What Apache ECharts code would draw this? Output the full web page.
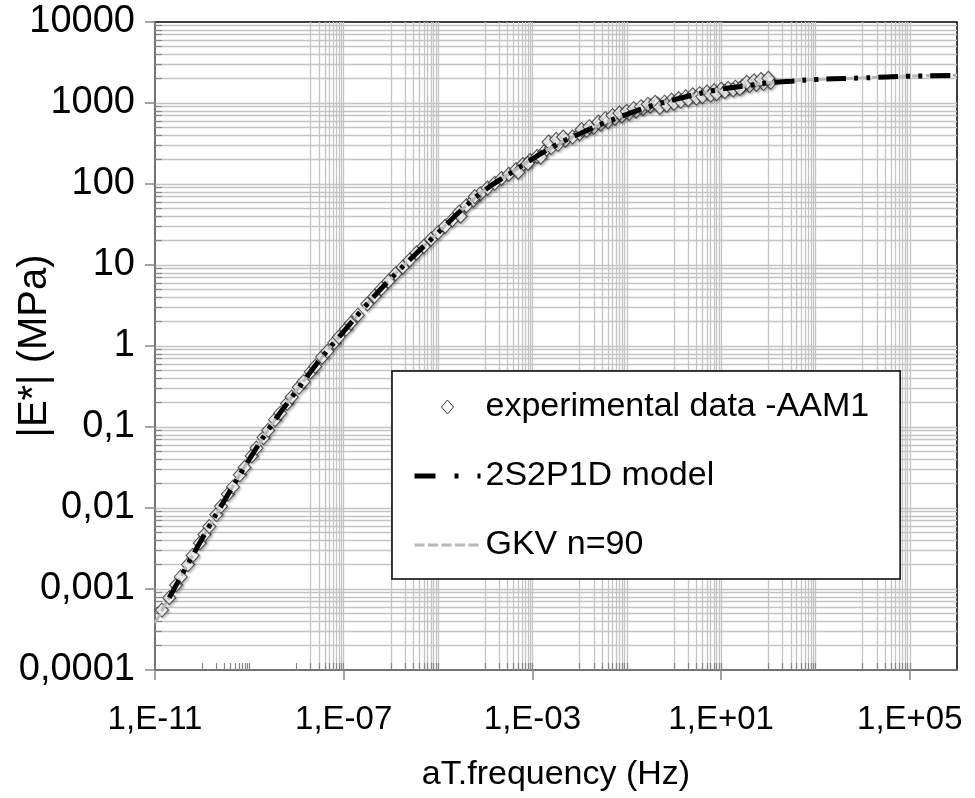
<!DOCTYPE html>
<html><head><meta charset="utf-8">
<script src="https://cdn.jsdelivr.net/npm/echarts@6/dist/echarts.min.js"></script>
<style>html,body{margin:0;padding:0;background:#fff}#c{width:975px;height:798px}</style>
</head><body><div id="c"></div>
<script>
// ---------- data ----------
const xTickValues = [1e-11, 1e-7, 1e-3, 1e1, 1e5];
const xTickLabels = ['1,E-11', '1,E-07', '1,E-03', '1,E+01', '1,E+05'];
const yTickValues = [1e-4, 1e-3, 1e-2, 1e-1, 1, 10, 100, 1000, 10000];
const yTickLabels = ['0,0001', '0,001', '0,01', '0,1', '1', '10', '100', '1000', '10000'];

const expFreq = [
  1.4e-11, 2.0e-11, 2.8e-11, 3.5e-11, 5.0e-11, 6.3e-11, 8.9e-11,
  1.12e-10, 1.41e-10, 2.0e-10, 2.5e-10, 3.5e-10, 4.5e-10, 6.3e-10, 7.9e-10,
  1.12e-9, 1.41e-9, 2.0e-9, 2.5e-9, 3.5e-9, 4.5e-9, 6.3e-9, 7.9e-9,
  1.12e-8, 1.41e-8, 2.0e-8, 2.5e-8, 3.5e-8, 4.5e-8, 6.3e-8, 7.9e-8,
  1.12e-7, 1.41e-7, 2.0e-7, 3.16e-7, 4.5e-7, 6.3e-7, 8.9e-7,
  1.26e-6, 1.78e-6, 2.5e-6, 3.5e-6, 5.0e-6, 7.1e-6,
  1.0e-5, 1.41e-5, 2.0e-5, 2.8e-5, 4.0e-5, 5.6e-5, 7.9e-5,
  1.12e-4, 1.58e-4, 2.2e-4, 3.16e-4, 4.5e-4, 6.3e-4, 8.9e-4,
  1.26e-3, 1.78e-3, 2.5e-3, 3.5e-3, 5.0e-3, 7.1e-3,
  1.0e-2, 1.41e-2, 2.0e-2, 2.8e-2, 4.0e-2, 5.6e-2, 7.9e-2,
  0.112, 0.158, 0.22, 0.316, 0.45, 0.63, 0.89,
  1.26, 1.78, 2.5, 3.5, 5.0, 7.1,
  10, 14.1, 20, 28, 40, 56, 79, 112,
  2.2e-3, 3.2e-3, 4.5e-3, 1.1e-2, 1.6e-2, 2.5e-2, 0.035, 0.05, 0.07, 0.1,
  0.14, 0.2, 0.28, 0.4, 0.5, 0.7, 1.0, 1.4, 2.0, 3.0,
  4.0, 6.0, 8.0, 12, 18, 25, 35, 50, 70, 100,
  1.5e-3, 8e-4, 5e-4, 3e-5, 6e-5
];
const expModulus = [
  0.00055, 0.00078, 0.00112, 0.00141, 0.0020, 0.0026, 0.0037,
  0.0047, 0.0059, 0.0083, 0.0105, 0.0148, 0.0182, 0.0257, 0.0316,
  0.044, 0.055, 0.074, 0.091, 0.123, 0.148, 0.195, 0.234,
  0.309, 0.363, 0.479, 0.56, 0.73, 0.86, 1.10, 1.29,
  1.62, 1.91, 2.4, 3.3, 4.1, 5.1, 6.3,
  7.8, 9.4, 11.5, 14.1, 17.0, 20.9,
  25, 30, 36, 45, 54, 63, 76,
  89, 102, 117, 132, 151, 174, 195,
  219, 251, 282, 309, 347, 380,
  417, 457, 501, 550, 589, 646, 692,
  741, 794, 851, 912, 966, 1023, 1084,
  1135, 1189, 1259, 1303, 1365, 1413,
  1479, 1514, 1567, 1603, 1641, 1698, 1738, 1800,
  330, 355, 380, 470, 510, 580, 640, 700, 750, 790,
  850, 900, 960, 1020, 880, 940, 990, 1050, 1100, 1150,
  1200, 1250, 1300, 1380, 1450, 1500, 1800, 1880, 1950, 2020,
  215, 180, 140, 40, 70
];

const modelFreq = [2e-11, 3.16e-11, 1e-10, 3.16e-10, 1e-9, 3.16e-9, 1e-8, 3.16e-8, 1e-7, 3.16e-7,
  1e-6, 3.16e-6, 1e-5, 3.16e-5, 1e-4, 3.16e-4, 1e-3, 3.16e-3, 1e-2, 3.16e-2,
  0.1, 0.316, 1, 3.16, 10, 31.6, 100, 316, 1000, 1e4, 1e5, 1e6];
const modelModulus = [0.00078, 0.00126, 0.0042, 0.0132, 0.040, 0.112, 0.28, 0.68, 1.51, 3.3,
  6.8, 13.2, 25, 48, 85, 132, 204, 302, 417, 562,
  724, 912, 1096, 1288, 1480, 1622, 1778, 1862, 1950, 2040, 2140, 2190];

const gkvFreq = [1e-11, 3.16e-11, 1e-10, 3.16e-10, 1e-9, 3.16e-9, 1e-8, 3.16e-8, 1e-7, 3.16e-7,
  1e-6, 3.16e-6, 1e-5, 3.16e-5, 1e-4, 3.16e-4, 1e-3, 3.16e-3, 1e-2, 3.16e-2,
  0.1, 0.316, 1, 3.16, 10, 31.6, 100, 316, 1000, 1e4, 1e5, 1e6];
const gkvModulus = [0.00038, 0.00126, 0.0042, 0.0132, 0.040, 0.112, 0.28, 0.68, 1.51, 3.3,
  6.8, 13.2, 25, 48, 85, 132, 204, 302, 417, 562,
  724, 912, 1096, 1288, 1480, 1622, 1778, 1862, 1950, 2040, 2150, 2200];

// gridline / minor tick positions
const xGridDecades = [1e-8, 1e-6, 1e-4, 1e-2, 1e0, 1e2, 1e4];
const xMinorTickDecades = [1e-10, 1e-8, 1e-6, 1e-4, 1e-2, 1e0, 1e2, 1e4];
const yDecades = [1e-4, 1e-3, 1e-2, 1e-1, 1, 10, 100, 1000];

// ---------- build ----------
const FONT = "'Liberation Sans', Arial, sans-serif";
const AXIS_GRAY = '#868686';
const GRID_GRAY = '#c4c4c4';

const xGridValues = [];
xGridDecades.forEach(d => { for (let k = (d === 1e-8 ? 2 : 1); k <= 10; k++) xGridValues.push(k * d); });
const xMinorTicks = [];
xMinorTickDecades.forEach(d => { for (let k = 1; k <= 10; k++) xMinorTicks.push(k * d); });
const yGridValues = [];
const yMinorTicks = [];
yDecades.forEach(d => {
  if (d > 1e-4) yGridValues.push(d);
  for (let k = 2; k <= 9; k++) { yGridValues.push(k * d); yMinorTicks.push(k * d); }
});

function lookup(values, labels, v) {
  for (let i = 0; i < values.length; i++) {
    if (Math.abs(Math.log10(values[i]) - Math.log10(v)) < 0.01) return labels[i];
  }
  return '';
}
const zip = (a, b) => a.map((v, i) => [v, b[i]]);

const gridLines = xGridValues.map(v => ({ xAxis: v })).concat(yGridValues.map(v => ({ yAxis: v })));

const chart = echarts.init(document.getElementById('c'), null, { renderer: 'canvas' });
chart.setOption({
  animation: false,
  backgroundColor: '#ffffff',
  textStyle: { fontFamily: FONT },
  grid: { left: 155, top: 22, right: 18, bottom: 128, containLabel: false, outerBoundsMode: 'none',
    show: true, borderColor: '#000', borderWidth: 1.5, backgroundColor: '#fff' },
  legend: {
    orient: 'vertical', left: 392, top: 371,
    padding: [19, 31, 17, 20], itemGap: 35, itemWidth: 66, itemHeight: 14,
    symbolKeepAspect: true,
    borderColor: '#000', borderWidth: 1.5, backgroundColor: '#fff',
    textStyle: { fontSize: 34, color: '#000', fontFamily: FONT },
    data: [
      { name: 'experimental data -AAM1', icon: 'path://M6,0L12,7L6,14L0,7Z',
        itemStyle: { color: '#fff', borderColor: '#000', borderWidth: 1, shadowBlur: 0, shadowOffsetX: 0, shadowOffsetY: 0 } },
      { name: '2S2P1D model', itemStyle: { opacity: 0 },
        lineStyle: { type: [21, 19, 4, 19, 4, 19], width: 5, color: '#000', opacity: 1 } },
      { name: 'GKV n=90', itemStyle: { opacity: 0 },
        lineStyle: { type: [10, 3.5], width: 3, color: '#b8b8b8', opacity: 1 } }
    ]
  },
  xAxis: [
    {
      type: 'log', logBase: 10, min: 1e-11, max: 1e6, position: 'bottom', z: 2,
      axisLine: { lineStyle: { color: AXIS_GRAY, width: 1.5 } },
      axisTick: { show: true, inside: false, length: 10, customValues: xTickValues, lineStyle: { color: AXIS_GRAY, width: 1.5 } },
      axisLabel: { customValues: xTickValues, formatter: v => lookup(xTickValues, xTickLabels, v), fontSize: 33, color: '#000', margin: 33, fontFamily: FONT },
      splitLine: { show: false }, minorTick: { show: false },
      name: 'aT.frequency (Hz)', nameLocation: 'middle', nameGap: 88, nameMoveOverlap: false,
      nameTextStyle: { fontSize: 34, color: '#000', fontFamily: FONT }
    },
    {
      type: 'log', logBase: 10, min: 1e-11, max: 1e6, position: 'bottom', z: 3,
      axisLine: { show: false },
      axisTick: { show: true, inside: true, length: 7, customValues: xMinorTicks, lineStyle: { color: AXIS_GRAY, width: 1.2 } },
      axisLabel: { show: false }, splitLine: { show: false }
    }
  ],
  yAxis: [
    {
      type: 'log', logBase: 10, min: 1e-4, max: 1e4, position: 'left', z: 2,
      axisLine: { lineStyle: { color: AXIS_GRAY, width: 1.5 } },
      axisTick: { show: true, inside: false, length: 10, lineStyle: { color: AXIS_GRAY, width: 1.5 } },
      axisLabel: { formatter: v => lookup(yTickValues, yTickLabels, v), fontSize: 38, color: '#000', margin: 20, fontFamily: FONT },
      splitLine: { show: false },
      name: '|E*| (MPa)', nameLocation: 'middle', nameGap: 100, nameRotate: 90, nameMoveOverlap: false,
      nameTextStyle: { fontSize: 40, color: '#000', fontFamily: FONT }
    },
    {
      type: 'log', logBase: 10, min: 1e-4, max: 1e4, position: 'left', z: 3,
      axisLine: { show: false },
      axisTick: { show: true, inside: true, length: 7, customValues: yMinorTicks, lineStyle: { color: AXIS_GRAY, width: 1.2 } },
      axisLabel: { show: false }, splitLine: { show: false }
    }
  ],
  series: [
    {
      name: 'gridlines', type: 'line', data: [], z: 1, silent: true,
      markLine: {
        silent: true, z: 1, precision: 15, symbol: ['none', 'none'], label: { show: false }, animation: false,
        lineStyle: { color: GRID_GRAY, width: 1.3, type: 'solid' },
        emphasis: { disabled: true },
        data: gridLines
      }
    },
    {
      name: 'experimental data -AAM1', type: 'scatter', z: 3,
      symbol: 'diamond', symbolSize: [13, 14],
      itemStyle: { color: '#ffffff', borderColor: '#2e2e2e', borderWidth: 1.1, shadowBlur: 2.5, shadowColor: 'rgba(0,0,0,0.3)', shadowOffsetX: 1.5, shadowOffsetY: 1.5 },
      data: zip(expFreq, expModulus)
    },
    {
      name: 'GKV n=90', type: 'line', z: 4, symbol: 'none', smooth: true,
      itemStyle: { color: '#b8b8b8' },
      lineStyle: { color: '#b8b8b8', width: 3, type: [10, 3.5] },
      data: zip(gkvFreq, gkvModulus)
    },
    {
      name: '2S2P1D model', type: 'line', z: 5, symbol: 'none', smooth: true,
      itemStyle: { color: '#000' },
      lineStyle: { color: '#000', width: 5, type: [20, 8, 4, 8, 4, 8] },
      data: zip(modelFreq, modelModulus)
    }
  ]
});
</script></body></html>
